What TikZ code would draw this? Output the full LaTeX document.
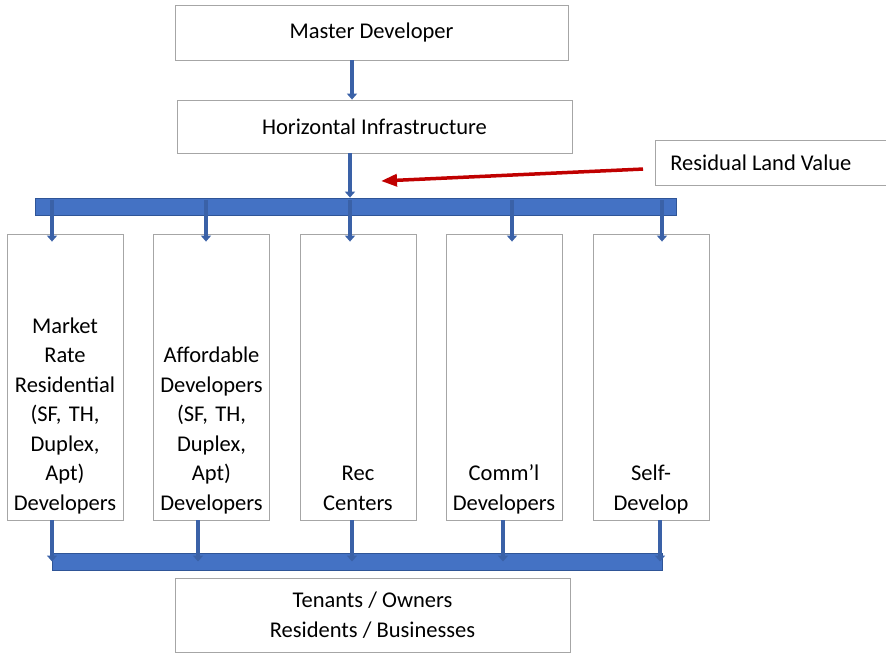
\documentclass[tikz,border=0pt]{standalone}
\usepackage{fontspec}
\setmainfont{Carlito}
\usetikzlibrary{arrows.meta,positioning}
\definecolor{barblue}{HTML}{4472C4}
\definecolor{bardark}{HTML}{2F5597}
\definecolor{arrowred}{HTML}{C00000}
\definecolor{boxgray}{HTML}{A6A6A6}
\newcommand{\boxfont}{\fontsize{22.5}{29.5}\selectfont\frenchspacing}

\begin{document}
\begin{tikzpicture}[x=1pt, y=-1pt,
  box/.style={draw=boxgray, line width=0.8pt, fill=white, inner sep=0pt,
              align=center, font=\boxfont},
  colbox/.style={draw=boxgray, line width=0.8pt, minimum width=116pt,
                 minimum height=286pt, inner sep=0pt},
  coltext/.style={anchor=south, inner sep=0pt, align=center, text width=114pt,
                  font=\boxfont, execute at end node=\strut},
  bar/.style={draw=bardark, fill=barblue, line width=0.8pt, inner sep=0pt,
              minimum height=17pt},
  arr/.style={-{Triangle[length=6pt,width=10pt]}, draw=barblue!85!black, line width=4pt},
  redarr/.style={-{Triangle[length=16pt,width=12pt]}, draw=arrowred, line width=3.5pt}
]
\useasboundingbox (0,0) rectangle (886,662);

% top of the chain
\node[box, minimum width=393pt, minimum height=55pt] (master) at (371.5,32.5) {Master Developer};
\node[box, minimum width=395pt, minimum height=53pt] (infra) at (374.5,126.5) {Horizontal Infrastructure};
\node[box, anchor=west, minimum height=45pt, text width=205pt, align=flush left, inner xsep=15pt]
  (residual) at (655,162.5) {Residual Land Value};

% distribution bars
\node[bar, minimum width=641pt] (topbar) at (355.5,206.5) {};
\node[bar, minimum width=610pt] (botbar) at (357,561.5) {};

% developer columns
\node[colbox] (mkt) at (65,377) {};
\node[colbox] (aff) at (211.5,377) {};
\node[colbox] (rec) at (358,377) {};
\node[colbox] (comm) at (504,377) {};
\node[colbox] (self) at (651,377) {};
\node[coltext] (mkttxt) at ([yshift=1pt]mkt.south) {Market\\Rate\\Residential\\(SF, TH,\\Duplex,\\Apt)\\Developers};
\node[coltext] (afftxt) at ([yshift=1pt]aff.south) {Affordable\\Developers\\(SF, TH,\\Duplex,\\Apt)\\Developers};
\node[coltext] (rectxt) at ([yshift=1pt]rec.south) {Rec\\Centers};
\node[coltext] (commtxt) at ([yshift=1pt]comm.south) {Comm'l\\Developers};
\node[coltext] (selftxt) at ([yshift=1pt]self.south) {Self-\\Develop};

\node[box, minimum width=395pt, minimum height=74pt] (tenants) at (372.5,615)
  {Tenants / Owners\\Residents / Businesses};

% arrow lanes
\coordinate (lane1) at (52,0);
\coordinate (lane2) at (206,0);
\coordinate (lane3) at (350,0);
\coordinate (lane4) at (512,0);
\coordinate (lane5) at (662,0);
\coordinate (drop1) at (52,0);
\coordinate (drop2) at (198,0);
\coordinate (drop3) at (352,0);
\coordinate (drop4) at (503,0);
\coordinate (drop5) at (660,0);
\coordinate (rlvtip) at (381,181);

\draw[arr] (drop3 |- master.south) -- (drop3 |- infra.north);
\draw[arr] (lane3 |- infra.south) -- (lane3 |- topbar.north);
\draw[redarr, shorten <=12pt] ([yshift=-6pt]residual.west) -- (rlvtip);

\draw[arr, shorten <=2pt, shorten >=-8pt] (lane1 |- topbar.north) -- (lane1 |- mkt.north);
\draw[arr, shorten <=2pt, shorten >=-8pt] (lane2 |- topbar.north) -- (lane2 |- aff.north);
\draw[arr, shorten <=2pt, shorten >=-8pt] (lane3 |- topbar.north) -- (lane3 |- rec.north);
\draw[arr, shorten <=2pt, shorten >=-8pt] (lane4 |- topbar.north) -- (lane4 |- comm.north);
\draw[arr, shorten <=2pt, shorten >=-8pt] (lane5 |- topbar.north) -- (lane5 |- self.north);

\draw[arr] (drop1 |- mkt.south) -- (drop1 |- botbar.center);
\draw[arr] (drop2 |- aff.south) -- (drop2 |- botbar.center);
\draw[arr] (drop3 |- rec.south) -- (drop3 |- botbar.center);
\draw[arr] (drop4 |- comm.south) -- (drop4 |- botbar.center);
\draw[arr] (drop5 |- self.south) -- (drop5 |- botbar.center);
\end{tikzpicture}
\end{document}
